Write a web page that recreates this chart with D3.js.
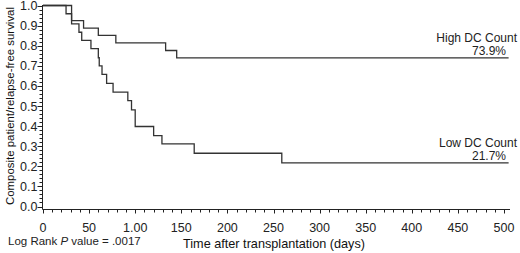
<!DOCTYPE html>
<html>
<head>
<meta charset="utf-8">
<script src="https://cdn.jsdelivr.net/npm/d3@7"></script>
<style>
  body { margin: 0; background: #fff; }
  svg { display: block; font-family: "Liberation Sans", Arial, sans-serif; }
</style>
</head>
<body>
<div id="chart-area"></div>
<script>
// step data: [day, survival]
var highDays = [0, 25, 31, 44, 60, 79, 133, 145, 505];
var highSurv = [1.0, 0.959, 0.925, 0.887, 0.851, 0.814, 0.776, 0.739, 0.739];
var lowDays = [0, 31, 39, 42, 52, 60, 61, 64, 69, 76, 92, 96, 100, 120, 129, 164, 259, 505];
var lowSurv = [1.0, 0.909, 0.867, 0.826, 0.785, 0.740, 0.700, 0.657, 0.613, 0.569, 0.527, 0.481, 0.398, 0.353, 0.312, 0.265, 0.217, 0.217];
var xTicks = [0, 50, 100, 150, 200, 250, 300, 350, 400, 450, 500];
var xTickLabels = ['0', '50', '1.00', '150', '200', '250', '300', '350', '400', '450', '500'];
var yTicks = [0, 0.1, 0.2, 0.3, 0.4, 0.5, 0.6, 0.7, 0.8, 0.9, 1.0];
var groups = ['High DC Count', 'Low DC Count'];
var groupPct = ['73.9%', '21.7%'];

const W = 520, H = 253

const svg = d3.select("#chart-area").append("svg")
      .attr("width", W)
      .attr("height", H)

const x = d3.scaleLinear().domain([0, 500]).range([43, 504])
const y = d3.scaleLinear().domain([0, 1]).range([206.5, 5.5])
const AXIS_Y = 209.5

// Y axis
const yAxis = svg.append("g").attr("transform", "translate(42.5,0)")
yAxis.append("line").attr("y1", 5).attr("y2", AXIS_Y).attr("stroke", "#222")
yAxis.selectAll(".minor").data(d3.range(0, 1.001, 0.02)).enter().append("line")
      .attr("x1", -3).attr("x2", 0)
      .attr("y1", d => Math.round(y(d)) + 0.5).attr("y2", d => Math.round(y(d)) + 0.5)
      .attr("stroke", "#222")
yAxis.selectAll(".major").data(yTicks).enter().append("line")
      .attr("x1", -5).attr("x2", 0)
      .attr("y1", d => Math.round(y(d)) + 0.5).attr("y2", d => Math.round(y(d)) + 0.5)
      .attr("stroke", "#222")
yAxis.selectAll("text").data(yTicks).enter().append("text")
      .attr("x", -5)
      .attr("y", d => y(d) + 4.5)
      .attr("text-anchor", "end")
      .attr("font-size", "12.5px")
      .attr("fill", "#222")
      .text(d => d3.format(".1f")(d))

// X axis
const xAxis = svg.append("g").attr("transform", `translate(0,${AXIS_Y})`)
xAxis.append("line").attr("x1", 42.5).attr("x2", 510).attr("stroke", "#222")
xAxis.selectAll(".minor").data(d3.range(0, 501, 10)).enter().append("line")
      .attr("x1", d => Math.round(x(d)) + 0.5).attr("x2", d => Math.round(x(d)) + 0.5)
      .attr("y1", 0).attr("y2", 3)
      .attr("stroke", "#222")
xAxis.selectAll(".major").data(xTicks).enter().append("line")
      .attr("x1", d => Math.round(x(d)) + 0.5).attr("x2", d => Math.round(x(d)) + 0.5)
      .attr("y1", 0).attr("y2", 4)
      .attr("stroke", "#222")
xAxis.selectAll("text").data(xTicks).enter().append("text")
      .attr("x", d => x(d))
      .attr("y", 22)
      .attr("text-anchor", "middle")
      .attr("font-size", "12.5px")
      .attr("fill", "#222")
      .text((d, i) => xTickLabels[i])

// Titles
svg.append("text")
      .attr("transform", "translate(14,106) rotate(-90)")
      .attr("text-anchor", "middle")
      .attr("font-size", "11px")
      .attr("textLength", 198)
      .attr("lengthAdjust", "spacingAndGlyphs")
      .attr("fill", "#111")
      .text("Composite patient/relapse-free survival")

svg.append("text")
      .attr("x", 274)
      .attr("y", 248)
      .attr("text-anchor", "middle")
      .attr("font-size", "13px")
      .attr("textLength", 182)
      .attr("lengthAdjust", "spacingAndGlyphs")
      .attr("fill", "#111")
      .text("Time after transplantation (days)")

const lr = svg.append("text")
      .attr("x", 8)
      .attr("y", 245)
      .attr("font-size", "11.5px")
      .attr("fill", "#222")
lr.append("tspan").text("Log Rank ")
lr.append("tspan").attr("font-style", "italic").text("P")
lr.append("tspan").text(" value = .0017")

// Curves
const line = d3.line()
      .x(d => x(d[0]))
      .y(d => y(d[1]))
      .curve(d3.curveStepAfter)

const series = [
      highDays.map((d, i) => [d, highSurv[i]]),
      lowDays.map((d, i) => [d, lowSurv[i]])
]

svg.selectAll(".curve").data(series).enter().append("path")
      .attr("class", "curve")
      .attr("d", line)
      .attr("fill", "none")
      .attr("stroke", "#333")
      .attr("stroke-width", 1.3)

// Group labels
series.forEach(function(s, i) {
      const last = s[s.length - 1]
      svg.append("text")
            .attr("x", 517)
            .attr("y", y(last[1]) - 16)
            .attr("text-anchor", "end")
            .attr("font-size", "12px")
            .attr("fill", "#222")
            .text(groups[i])
      svg.append("text")
            .attr("x", 506)
            .attr("y", y(last[1]) - 3)
            .attr("text-anchor", "end")
            .attr("font-size", "12px")
            .attr("fill", "#222")
            .text(groupPct[i])
})
</script>
</body>
</html>
